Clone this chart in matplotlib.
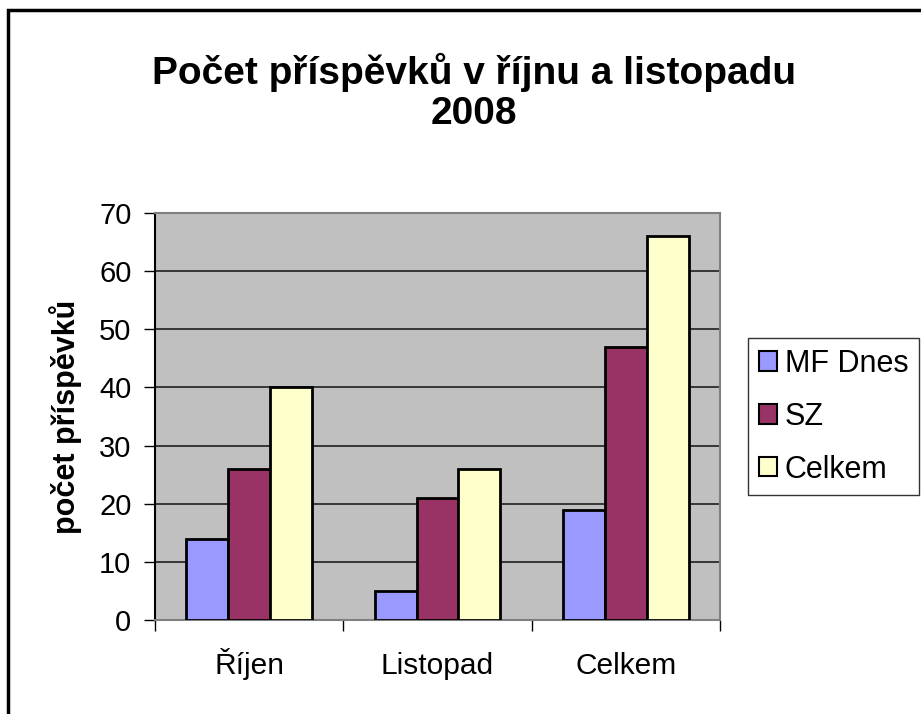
import numpy as np
import matplotlib.pyplot as plt
from matplotlib.patches import Rectangle, Patch

plt.rcParams['font.family'] = ['Liberation Sans', 'DejaVu Sans']

categories = ['Říjen', 'Listopad', 'Celkem']
series = ['MF Dnes', 'SZ', 'Celkem']
mf_dnes = [14, 5, 19]
sz = [26, 21, 47]
celkem = [40, 26, 66]
yticks = [0, 10, 20, 30, 40, 50, 60, 70]

colors = ['#9999FF', '#993366', '#FFFFCC']

fig = plt.figure(figsize=(9.21, 7.14), dpi=100)
ax = fig.add_axes([155 / 921, 94 / 714, 565 / 921, 407 / 714])
ax.set_facecolor('#C0C0C0')

x = np.arange(len(categories))
w = 1 / 4.5
for i, vals in enumerate([mf_dnes, sz, celkem]):
    ax.bar(x + (i - 1) * w, vals, width=w, color=colors[i],
           edgecolor='black', linewidth=2, zorder=3)

ax.set_xlim(-0.5, 2.5)
ax.set_ylim(0, 70)
ax.set_yticks(yticks)
ax.set_yticklabels([str(t) for t in yticks], fontsize=21)
ax.yaxis.grid(True, color='#202020', linewidth=1.2, zorder=1)
ax.set_axisbelow(True)

ax.set_xticks([-0.5, 0.5, 1.5, 2.5])
ax.set_xticklabels([])
ax.set_xticks(x, minor=True)
ax.set_xticklabels(categories, minor=True, fontsize=21.5, va='baseline')
ax.tick_params(axis='x', which='minor', length=0, pad=39)
ax.tick_params(axis='x', which='major', length=8, width=1, color='black')
ax.tick_params(axis='y', length=8, width=1, pad=9)

for s in ['top', 'right', 'bottom']:
    ax.spines[s].set_color('#808080')
    ax.spines[s].set_linewidth(1.5)
ax.spines['left'].set_color('black')
ax.spines['left'].set_linewidth(1.5)

ax.set_ylabel('počet příspěvků', fontsize=22, fontweight='bold', labelpad=12)

fig.text(0.515, 0.871, 'Počet příspěvků v říjnu a listopadu\n2008',
         ha='center', va='center', fontsize=28, fontweight='bold',
         linespacing=1.13)

handles = [Patch(facecolor=c, edgecolor='black', linewidth=1.5) for c in colors]
leg = fig.legend(handles, series, loc='upper left',
                 bbox_to_anchor=(748 / 921, 1 - 338 / 714),
                 fontsize=22, frameon=True, fancybox=False,
                 handlelength=0.6, handleheight=0.6, handletextpad=0.25,
                 labelspacing=0.75, borderpad=0.35, borderaxespad=0)
leg.get_frame().set_edgecolor('black')
leg.get_frame().set_linewidth(1)

fig.patches.append(Rectangle((8 / 921, -0.1), 1.2, 1 - 10 / 714 + 0.1,
                             transform=fig.transFigure, fill=False,
                             edgecolor='black', linewidth=2.5))

fig.savefig('out.png', dpi=100)
